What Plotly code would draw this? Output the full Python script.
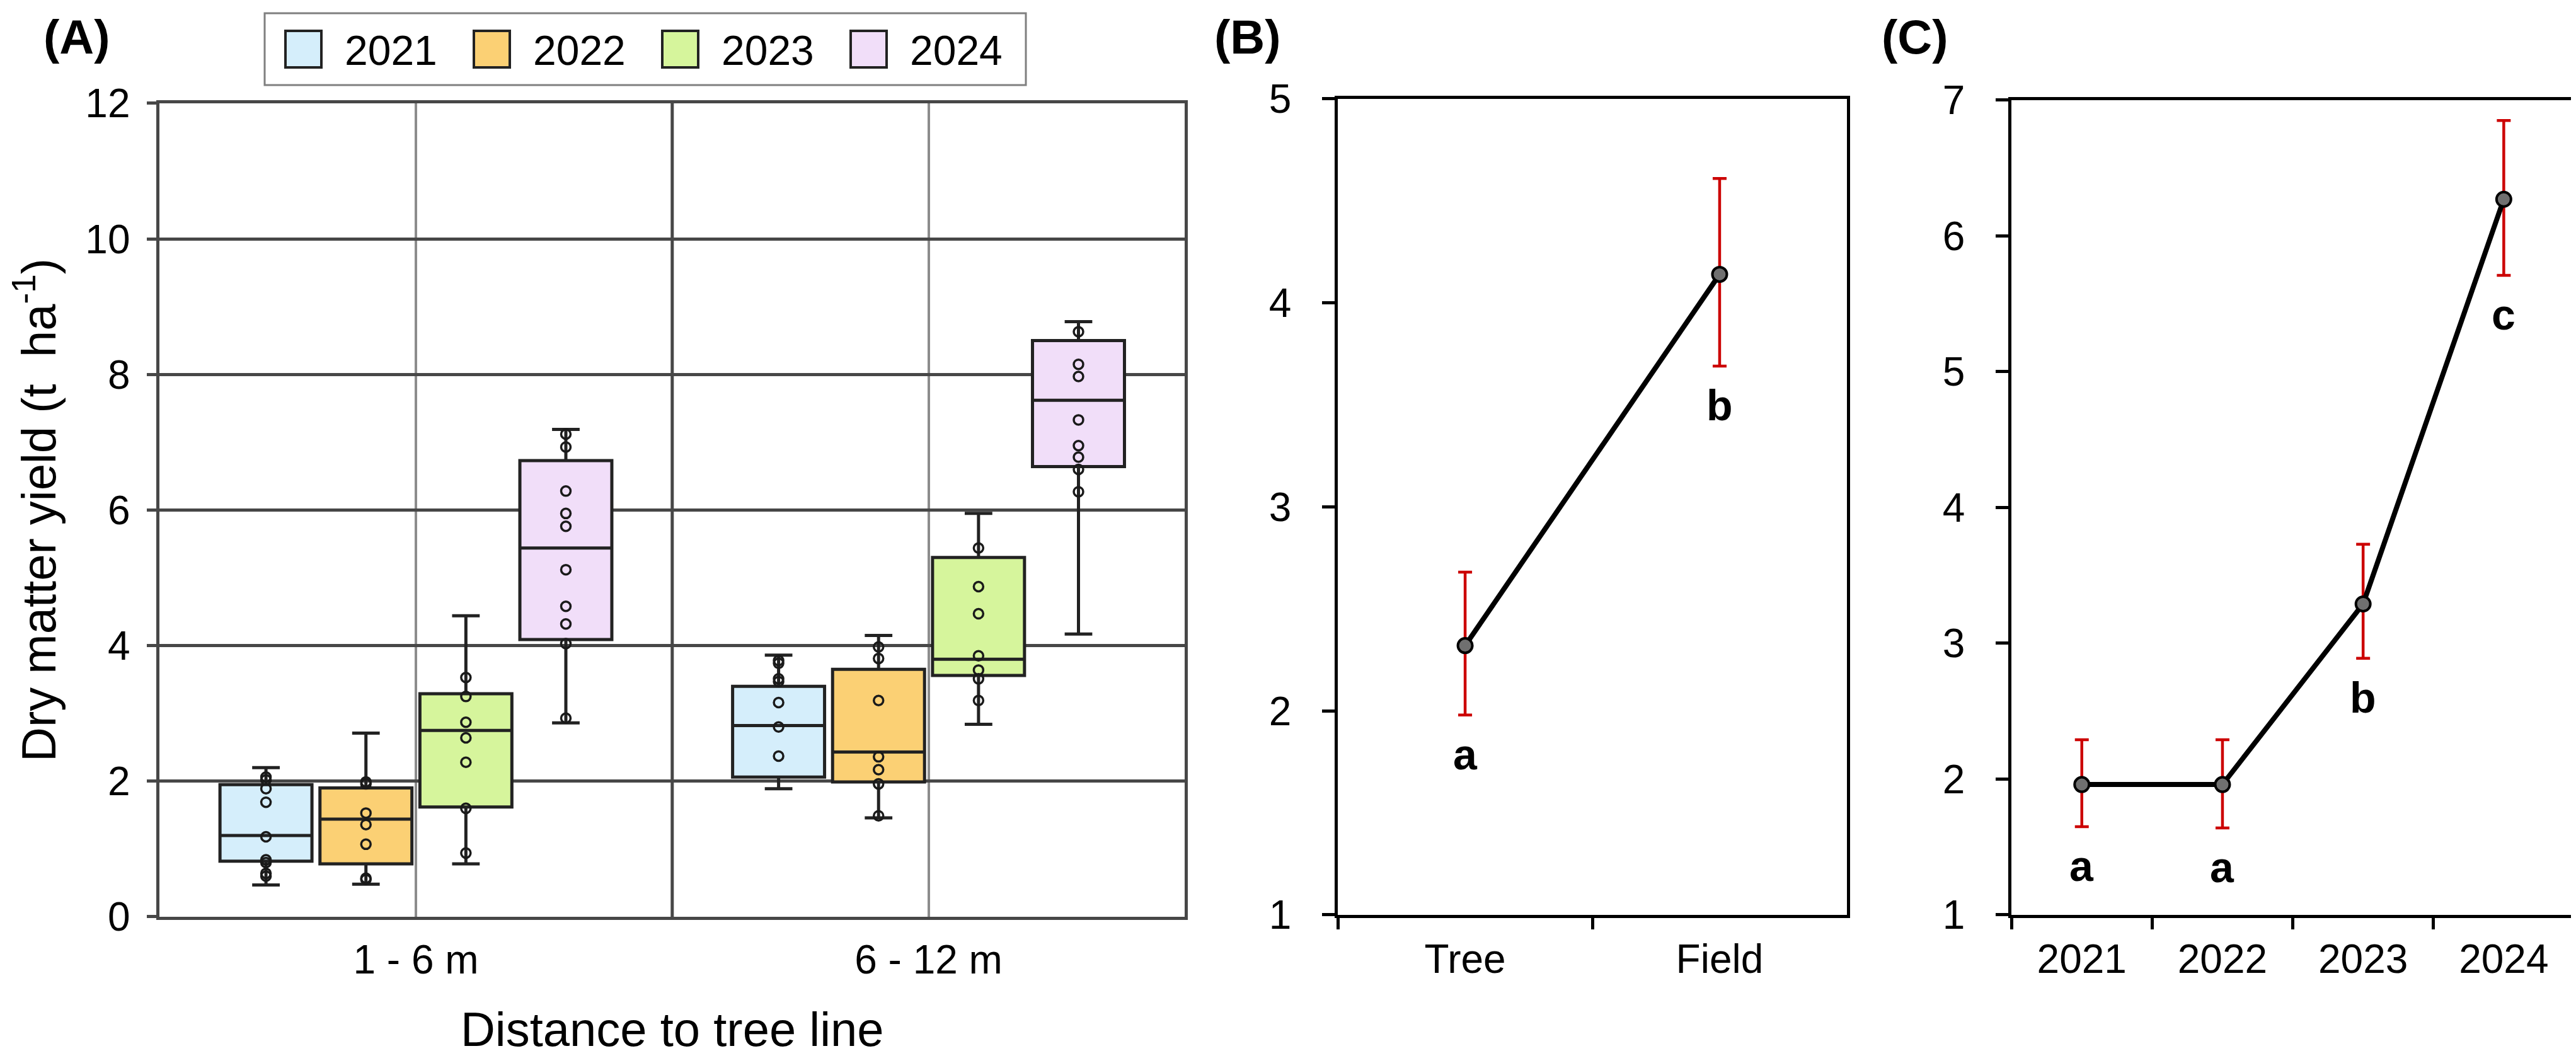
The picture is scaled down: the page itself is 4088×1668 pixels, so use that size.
"""
Dry matter yield by distance to tree line and year (A),
position effect (B) and year effect (C)
"""

import plotly.graph_objects as go

# ---- Panel A: box plots per distance class and year ----
categories = ["1 - 6 m", "6 - 12 m"]
years = ["2021", "2022", "2023", "2024"]
box_colors = ["#d5eefb", "#fbd074", "#d6f59c", "#f1def9"]

# box statistics, one value per distance class
q1 = {"2021": [0.82, 2.06], "2022": [0.78, 1.99], "2023": [1.62, 3.56], "2024": [4.09, 6.64]}
median = {"2021": [1.20, 2.82], "2022": [1.44, 2.43], "2023": [2.75, 3.80], "2024": [5.44, 7.62]}
q3 = {"2021": [1.95, 3.40], "2022": [1.90, 3.65], "2023": [3.29, 5.30], "2024": [6.73, 8.50]}
lower = {"2021": [0.47, 1.89], "2022": [0.48, 1.46], "2023": [0.78, 2.84], "2024": [2.86, 4.17]}
upper = {"2021": [2.20, 3.86], "2022": [2.71, 4.15], "2023": [4.44, 5.95], "2024": [7.19, 8.78]}

# single observations shown on top of the boxes
points_near = {
    "2021": [2.06, 2.02, 1.89, 1.69, 1.18, 0.84, 0.80, 0.64, 0.60],
    "2022": [1.99, 1.96, 1.53, 1.36, 1.07, 0.57, 0.55],
    "2023": [3.53, 3.25, 2.87, 2.64, 2.28, 1.60, 0.94],
    "2024": [7.12, 6.93, 6.28, 5.95, 5.76, 5.12, 4.58, 4.32, 4.03, 2.93],
}
points_far = {
    "2021": [3.78, 3.74, 3.51, 3.47, 3.16, 2.80, 2.37],
    "2022": [3.98, 3.81, 3.19, 2.36, 2.17, 1.96, 1.49],
    "2023": [5.44, 4.87, 4.47, 3.85, 3.64, 3.51, 3.19],
    "2024": [8.63, 8.15, 7.97, 7.33, 6.95, 6.78, 6.60, 6.27],
}

# ---- Panel B: mean yield by position ----
positions = ["Tree", "Field"]
pos_mean = [2.32, 4.14]
pos_err_up = [0.36, 0.47]
pos_err_down = [0.34, 0.45]
pos_letters = ["a", "b"]

# ---- Panel C: mean yield by year ----
year_mean = [1.96, 1.96, 3.29, 6.27]
year_err_up = [0.33, 0.33, 0.44, 0.58]
year_err_down = [0.31, 0.32, 0.40, 0.56]
year_letters = ["a", "a", "b", "c"]

FONT = "Liberation Sans, Arial, sans-serif"
GRID_DARK = "#474747"
GRID_LIGHT = "#8c8c8c"
BOX_LINE = "#222222"
ERR_RED = "#cc0000"
W, H = 4088, 1668

fig = go.Figure()

for year, color in zip(years, box_colors):
    # the box itself, from precomputed statistics
    fig.add_trace(go.Box(
        name=year,
        x=categories,
        q1=q1[year],
        median=median[year],
        q3=q3[year],
        lowerfence=lower[year],
        upperfence=upper[year],
        boxpoints=False,
        offsetgroup=year,
        alignmentgroup="A",
        fillcolor=color,
        line=dict(color=BOX_LINE, width=5),
        whiskerwidth=0.3,
        showlegend=False,
        xaxis="x",
        yaxis="y",
    ))
    # the observations, drawn at the same offset as the box
    xs = [categories[0]] * len(points_near[year]) + [categories[1]] * len(points_far[year])
    ys = points_near[year] + points_far[year]
    fig.add_trace(go.Box(
        name=year,
        x=xs,
        y=ys,
        boxpoints="all",
        jitter=0,
        pointpos=0,
        offsetgroup=year,
        alignmentgroup="A",
        fillcolor="rgba(0,0,0,0)",
        line=dict(width=0),
        marker=dict(symbol="circle-open", size=15, color="#1a1a1a", line=dict(width=3.5)),
        showlegend=False,
        xaxis="x",
        yaxis="y",
    ))

mean_style = dict(
    mode="lines+markers",
    line=dict(color="black", width=8),
    marker=dict(size=23, color="#707070", line=dict(color="black", width=4)),
    showlegend=False,
)

fig.add_trace(go.Scatter(
    x=positions,
    y=pos_mean,
    error_y=dict(type="data", array=pos_err_up, arrayminus=pos_err_down,
                 color=ERR_RED, thickness=4.5, width=11),
    xaxis="x2",
    yaxis="y2",
    **mean_style,
))

fig.add_trace(go.Scatter(
    x=years,
    y=year_mean,
    error_y=dict(type="data", array=year_err_up, arrayminus=year_err_down,
                 color=ERR_RED, thickness=4.5, width=11),
    xaxis="x3",
    yaxis="y3",
    **mean_style,
))

# significance letters just below each error bar (category index as x)
for xref, yref, means, downs, letters in [
    ("x2", "y2", pos_mean, pos_err_down, pos_letters),
    ("x3", "y3", year_mean, year_err_down, year_letters),
]:
    for i, (m, d, letter) in enumerate(zip(means, downs, letters)):
        fig.add_annotation(
            x=i, y=m - d, xref=xref, yref=yref,
            text=f"<b>{letter}</b>", showarrow=False,
            yanchor="top", yshift=-22,
            font=dict(size=68, color="black", family=FONT),
        )

# panel labels
for label, xpos in [("(A)", 0.028), ("(B)", 0.4825), ("(C)", 0.7415)]:
    fig.add_annotation(
        x=xpos, y=0.970, xref="paper", yref="paper",
        text=f"<b>{label}</b>", showarrow=False,
        xanchor="center", yanchor="middle",
        font=dict(size=76, color="black", family=FONT),
    )

# legend for panel A: framed row of colour swatches
leg_left, leg_right, leg_top, leg_bottom = 412, 1620, 13, 127
fig.add_shape(
    type="rect", xref="paper", yref="paper",
    x0=leg_left / W, x1=leg_right / W, y0=1 - leg_bottom / H, y1=1 - leg_top / H,
    line=dict(color="#7f7f7f", width=3), fillcolor="white",
)
for i, (year, color) in enumerate(zip(years, box_colors)):
    sx = 445 + i * 299
    fig.add_shape(
        type="rect", xref="paper", yref="paper",
        x0=sx / W, x1=(sx + 57) / W, y0=1 - 99 / H, y1=1 - 41 / H,
        line=dict(color=BOX_LINE, width=4), fillcolor=color,
    )
    fig.add_annotation(
        x=(sx + 92) / W, y=1 - 72 / H, xref="paper", yref="paper",
        text=year, showarrow=False, xanchor="left", yanchor="middle",
        font=dict(size=66, color="black", family=FONT),
    )

# darker separator between the two distance classes
fig.add_vline(x=0.5, xref="x", line=dict(color=GRID_DARK, width=5), layer="below")

tick_font = dict(size=64, color="black", family=FONT)

frame_black = dict(showline=True, mirror=True, linecolor="black", linewidth=5,
                   showgrid=False, zeroline=False, automargin=False)

fig.update_layout(
    width=W,
    height=H,
    margin=dict(l=0, r=0, t=0, b=0),
    paper_bgcolor="white",
    plot_bgcolor="white",
    font=dict(family=FONT, color="black"),
    boxmode="group",
    boxgap=0.22,
    boxgroupgap=0.08,
    showlegend=False,
    xaxis=dict(
        domain=[0.060, 0.458],
        type="category",
        range=[-0.5, 1.5],
        showline=True, mirror=True, linecolor=GRID_DARK, linewidth=5,
        showgrid=True, gridcolor=GRID_LIGHT, gridwidth=4,
        ticks="", tickfont=tick_font, ticklabelstandoff=8,
        title=dict(text="Distance to tree line", font=dict(size=76, family=FONT, color="black"),
                   standoff=104),
        automargin=False,
    ),
    yaxis=dict(
        domain=[0.1325, 0.9065],
        range=[0, 12],
        dtick=2,
        showline=True, mirror=True, linecolor=GRID_DARK, linewidth=5,
        showgrid=True, gridcolor=GRID_DARK, gridwidth=5, zeroline=False,
        ticks="outside", ticklen=15, tickwidth=5, tickcolor=GRID_DARK,
        tickfont=tick_font, ticklabelstandoff=14,
        title=dict(text="Dry matter yield (t  ha<sup>-1</sup>)",
                   font=dict(size=76, family=FONT, color="black"), standoff=58),
        automargin=False,
    ),
    xaxis2=dict(
        domain=[0.5174, 0.7150],
        type="category",
        range=[-0.5, 1.5],
        ticks="outside", tickson="boundaries", ticklen=18, tickwidth=5, tickcolor="black",
        tickfont=tick_font, ticklabelstandoff=10,
        anchor="y2",
        **frame_black,
    ),
    yaxis2=dict(
        domain=[0.1343, 0.9107],
        range=[1, 5],
        dtick=1,
        ticks="outside", ticklen=20, tickwidth=5, tickcolor="black",
        tickfont=tick_font, ticklabelstandoff=36,
        anchor="x2",
        **frame_black,
    ),
    xaxis3=dict(
        domain=[0.7789, 0.9973],
        type="category",
        range=[-0.5, 3.5],
        ticks="outside", tickson="boundaries", ticklen=18, tickwidth=5, tickcolor="black",
        tickfont=tick_font, ticklabelstandoff=10,
        anchor="y3",
        **frame_black,
    ),
    yaxis3=dict(
        domain=[0.1343, 0.9095],
        range=[1, 7],
        dtick=1,
        ticks="outside", ticklen=20, tickwidth=5, tickcolor="black",
        tickfont=tick_font, ticklabelstandoff=36,
        anchor="x3",
        **frame_black,
    ),
)

fig.write_html("out.html")
